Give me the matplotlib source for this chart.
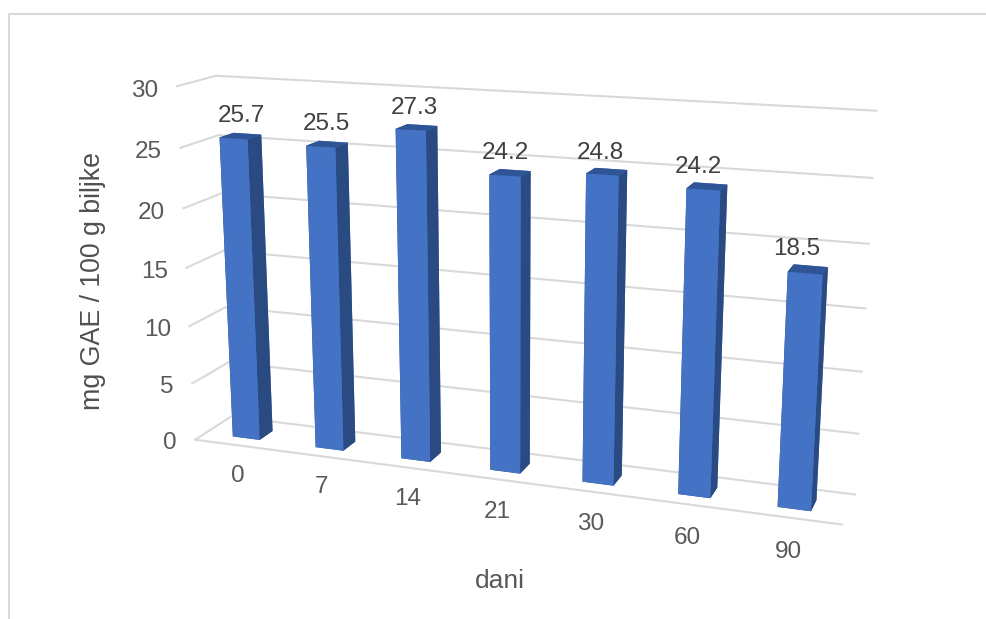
import numpy as np
import matplotlib
matplotlib.use('Agg')
import matplotlib.pyplot as plt
from matplotlib.lines import Line2D
from mpl_toolkits.mplot3d import proj3d

plt.rcParams['font.family'] = ['Liberation Sans', 'DejaVu Sans']

categories = ['0', '7', '14', '21', '30', '60', '90']
values = [25.7, 25.5, 27.3, 24.2, 24.8, 24.2, 18.5]
y_ticks = [0, 5, 10, 15, 20, 25, 30]

W, H = 986, 619
grid = '#D9D9D9'
bar_w, y0, y1 = 0.328, 0.284, 0.657

fig = plt.figure(figsize=(W / 100, H / 100), dpi=100)
# camera and box fitted to the walls and bars in the picture
ax = fig.add_axes([0.353, 0.273, 0.3216, 0.5123], projection='3d', proj_type='persp', focal_length=1)
ax.set_xlim3d(0, 7)
ax.set_ylim3d(0, 1)
ax.set_zlim3d(0, 30)
ax.view_init(elev=14.997, azim=-70.388)
ax.set_box_aspect((1.814, 0.210, 1), zoom=2.427)
ax.set_axis_off()

for v in y_ticks:
    ax.plot([0, 0, 7], [0, 1, 1], [v, v, v], color=grid, lw=1.5, clip_on=False)
ax.plot([0, 7], [0, 0], [0, 0], color=grid, lw=1.5, clip_on=False)

n = len(values)
cols = []
for i in range(n):
    cols += ['#2F5597', '#2F5597', '#4472C4', '#4472C4', '#2A4A82', '#2A4A82']
bars = ax.bar3d(np.arange(n) + .5 - bar_w / 2, np.full(n, y0), np.zeros(n),
                bar_w, y1 - y0, values, color=cols, shade=False)
bars.set_clip_on(False)


def label(x, y, z, s, **kw):
    # 3d point -> figure text, so the labels stay in plain pixels
    x2, y2, _ = proj3d.proj_transform(x, y, z, ax.get_proj())
    px, py = ax.transData.transform((x2, y2))
    fig.text(px / W, py / H, s, fontsize=17.5, va='center', **kw)


ax.apply_aspect()
for i, v in enumerate(values):
    label(i + .32, .93, v + 1.14 - .065 * i, f'{v}', ha='center', color='#404040')
    label(i + .5, 0, -2.75, categories[i], ha='center', color='#595959')
for v in y_ticks:
    label(-.23, 0, v - .48, str(v), ha='right', color='#595959')

fig.text(93 / W, 1 - 281 / H, 'mg GAE / 100 g biljke', rotation=90, ha='center', va='center',
         fontsize=19.3, color='#505050')
fig.text(500 / W, 1 - 581 / H, 'dani', ha='center', va='center', fontsize=19, color='#595959')
fig.add_artist(Line2D([9 / W, 9 / W, 1], [0, 1 - 14 / H, 1 - 14 / H], color=grid, lw=1.5))
fig.savefig('out.png', dpi=100)
